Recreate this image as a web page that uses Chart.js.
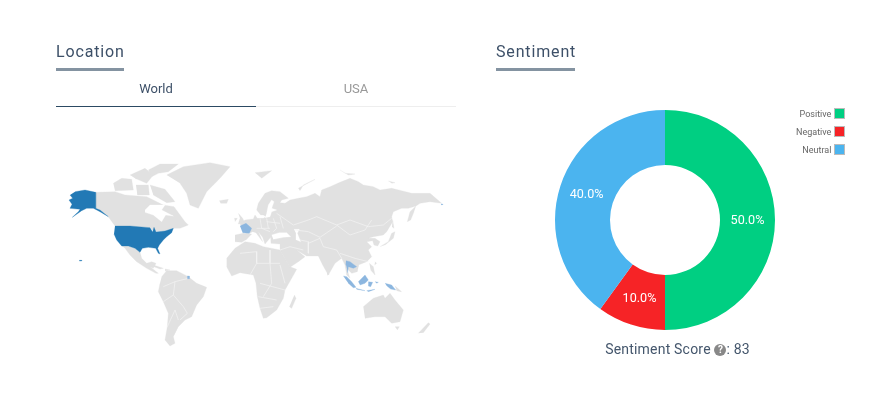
<!DOCTYPE html>
<html>
<head>
<meta charset="utf-8">
<script src="https://cdn.jsdelivr.net/npm/chart.js@4"></script>
<style>
body { margin: 0; background: #fff; font-family: Roboto, sans-serif; width: 889px; height: 396px; overflow: hidden; position: relative; }
.title { position: absolute; top: 42px; font-size: 16px; letter-spacing: .85px; color: #3d5068; line-height: 20px; will-change: transform; }
.bar { position: absolute; top: 68px; height: 3px; background: #8493a1; }
.tab { position: absolute; top: 80px; width: 200px; text-align: center; font-size: 13px; line-height: 17px; will-change: transform; }
.tabline { position: absolute; top: 106px; width: 200px; height: 1px; }
#mapBox { position: absolute; left: 56px; top: 130px; width: 400px; height: 230px; }
#pieBox { position: absolute; left: 545px; top: 100px; width: 240px; height: 240px; }
#legend { position: absolute; right: 44px; top: 108px; font-size: 9px; color: #666; text-align: right; will-change: transform; }
#legend div { height: 18px; line-height: 13px; }
#legend i { display: inline-block; width: 9px; height: 9px; border: 1px solid #bbb; margin-left: 3px; vertical-align: -2px; }
#score { position: absolute; left: 545px; width: 265px; top: 340px; text-align: center; font-size: 14px; color: #44566c; line-height: 18px; letter-spacing: .2px; will-change: transform; }
#score span { display: inline-block; width: 12px; height: 12px; border-radius: 50%; background: #888; color: #fff; font-size: 10px; font-weight: 700; line-height: 12px; letter-spacing: 0; vertical-align: 1px; }
</style>
</head>
<body>
<div class="title" style="left:56px">Location</div>
<div class="bar" style="left:56px;width:68px"></div>
<div class="tab" style="left:56px;color:#3d5068">World</div>
<div class="tab" style="left:256px;color:#999">USA</div>
<div class="tabline" style="left:56px;background:#2c4a63"></div>
<div class="tabline" style="left:256px;background:#eee"></div>
<div class="title" style="left:496px">Sentiment</div>
<div class="bar" style="left:496px;width:79px"></div>
<div id="mapBox"><canvas id="mapChart" width="400" height="230"></canvas></div>
<div id="pieBox"><canvas id="pieChart" width="240" height="240"></canvas></div>
<div id="legend"></div>
<div id="score">Sentiment Score <span>?</span>: 83</div>
<script>
const categories = ['Positive', 'Negative', 'Neutral'];
const sentiment = [50, 10, 40];
const sentimentColors = ['#00cf82', '#f62326', '#4bb4ef'];

// map outlines, in map units
const landShapes = [
    // canada
    [[137,127],[195,125],[225,135],[290,140],[340,165],[372,170],[405,215],[415,225],[390,235],[370,235],[345,243],[315,245],[300,233],[240,228],[195,228],[175,200],[150,180],[137,175]],
    // arctic islands
    [[190,100],[215,85],[245,88],[250,120],[195,122]],
    [[240,75],[285,55],[310,75],[290,100],[255,85]],
    [[295,60],[330,42],[385,42],[355,65],[325,70],[305,80]],
    [[258,105],[295,105],[298,135],[262,135]],
    [[300,105],[345,118],[375,155],[350,158],[310,135]],
    // greenland, iceland
    [[350,75],[400,50],[480,38],[540,50],[510,85],[470,125],[445,175],[420,165],[410,130],[390,100]],
    [[508,152],[535,148],[530,160],[512,160]],
    // mexico, caribbean
    [[215,288],[235,288],[255,295],[270,307],[275,325],[290,340],[305,335],[318,340],[310,355],[300,350],[325,370],[318,370],[290,355],[260,335],[240,315],[225,295]],
    [[310,345],[340,355],[330,357],[312,350]],
    [[345,357],[360,360],[345,363]],
    // south america
    [[335,380],[350,362],[380,362],[415,380],[440,400],[470,412],[460,440],[440,465],[425,500],[405,510],[385,530],[370,560],[375,580],[360,588],[345,570],[352,530],[355,490],[340,455],[325,425],[330,400]],
    // africa, madagascar
    [[530,325],[555,295],[585,275],[615,280],[640,290],[690,300],[720,350],[740,358],[725,385],[705,420],[700,445],[680,480],[650,503],[640,505],[630,475],[622,440],[618,400],[610,375],[570,368],[545,378],[530,350]],
    [[733,435],[738,445],[725,475],[718,470]],
    // europe and asia
    [[570,222],[585,210],[610,207],[615,195],[622,205],[640,205],[648,200],[640,195],[632,195],[620,180],[625,160],[645,130],[665,122],[690,125],[715,145],[695,150],[690,158],[705,160],[720,150],[745,145],[770,140],[795,130],[810,140],[815,120],[840,110],[870,97],[900,85],[925,95],[940,105],[970,110],[990,120],[1025,115],[1055,122],[1085,130],[1140,130],[1175,160],[1140,155],[1110,160],[1098,168],[1075,175],[1055,175],[1030,185],[1025,200],[1028,215],[1010,245],[1000,255],[970,260],[955,265],[975,265],[990,275],[983,288],[972,285],[968,272],[950,275],[965,290],[955,300],[965,320],[950,335],[925,345],[925,350],[922,365],[905,370],[890,355],[892,362],[900,385],[890,375],[885,345],[875,325],[855,340],[835,375],[818,345],[805,318],[770,318],[740,300],[765,320],[745,335],[720,352],[710,335],[690,300],[690,282],[663,280],[662,262],[645,282],[638,262],[625,245],[638,275],[618,248],[608,245],[598,250],[588,252]],
    [[1098,168],[1080,185],[1072,215],[1082,210],[1092,185]],
    [[555,255],[580,250],[605,252],[590,268],[575,277],[555,275]],
    [[565,190],[578,205],[585,220],[565,222],[570,205]],
    [[553,205],[562,205],[555,215]],
    [[615,68],[665,62],[635,85]],
    [[745,115],[795,88],[760,105],[750,122]],
    [[870,60],[895,75],[915,72],[885,70]],
    [[1015,93],[1035,98],[1025,100]],
    [[990,290],[1015,275],[1025,250],[1035,245],[1030,265],[1005,285]],
    [[1028,210],[1032,235],[1026,230]],
    [[975,335],[980,340],[974,345]],
    [[958,340],[970,350],[975,375],[962,360]],
    [[831,367],[838,372],[832,376]],
    [[1035,408],[1055,425],[1040,422]],
    // australia, new zealand
    [[940,470],[970,445],[1000,435],[1005,445],[1020,430],[1035,450],[1060,480],[1050,515],[1025,520],[1005,500],[975,500],[945,505]],
    [[1035,530],[1048,530],[1042,540]],
    [[1105,550],[1135,518],[1140,522],[1120,548]]
];

const waterShapes = [
    [[285,180],[300,165],[345,165],[335,180],[370,198],[347,195],[335,215],[310,195],[285,187]],
    [[665,255],[688,248],[710,248],[722,260],[700,262],[670,268]],
    [[732,238],[748,238],[742,250],[752,275],[740,270],[738,250]],
    [[650,190],[655,165],[665,150],[672,155],[665,175],[680,180],[665,185],[660,200],[645,203]]
];

const borderLines = [
    [[340,410],[375,395],[415,385]],
    [[375,395],[370,435],[400,470],[412,490],[390,510]],
    [[340,455],[370,435]],
    [[352,530],[375,480],[385,510]],
    [[570,310],[620,305],[620,340],[690,340]],
    [[660,300],[660,340],[665,400],[640,440]],
    [[620,340],[600,375]],
    [[690,345],[705,400]],
    [[630,400],[705,420]],
    [[625,440],[680,450]],
    [[630,475],[670,470]],
    [[690,300],[720,290],[760,300]],
    [[630,205],[635,235],[660,245]],
    [[650,205],[655,235]],
    [[670,205],[680,235],[670,245]],
    [[690,200],[700,235]],
    [[620,235],[660,235]],
    [[650,215],[690,220]],
    [[680,190],[730,225],[775,210],[800,200],[860,225],[900,210],[955,230],[1000,225],[1025,205]],
    [[860,225],[900,255],[945,240],[965,210]],
    [[735,240],[775,245],[810,262],[860,228]],
    [[750,270],[775,275],[775,310]],
    [[775,280],[810,265],[820,290],[860,300],[875,325]],
    [[870,310],[915,325],[955,335]]
];

const usaShapes = [
    [[75,125],[105,120],[137,127],[137,175],[150,180],[175,200],[150,185],[130,175],[110,175],[95,182],[67,202],[85,185],[90,178],[60,175],[66,163],[57,150],[68,145],[60,135]],
    [[195,228],[240,228],[300,233],[308,246],[312,232],[318,246],[345,243],[370,235],[365,248],[350,260],[340,270],[328,285],[323,295],[330,312],[325,310],[317,295],[295,292],[277,295],[270,307],[255,295],[235,288],[215,288],[200,270],[192,252]],
    [[88,331],[95,331],[95,333],[88,333]]
];

const lightShapes = [
    [[412,378],[418,378],[418,386],[412,386]],
    [[570,228],[588,220],[605,235],[598,250],[578,248]],
    [[888,332],[900,335],[920,350],[910,355],[895,350],[893,368],[890,350],[887,342]],
    [[880,378],[890,380],[905,395],[918,412],[910,413],[895,400]],
    [[918,415],[945,422],[920,418]],
    [[925,395],[945,375],[955,390],[945,400],[930,405]],
    [[955,395],[968,397],[962,410],[955,408]],
    [[1005,400],[1025,405],[1037,420],[1022,417],[1010,407]],
    [[975,395],[985,397],[980,400]],
    [[950,422],[975,418],[955,425]],
    [[1173,162],[1178,162],[1178,164],[1173,164]]
];

function shape(pts, color) {
    return {
        data: pts.map(p => ({ x: p[0], y: p[1] })),
        showLine: true,
        fill: 'shape',
        backgroundColor: color,
        borderColor: color,
        borderWidth: 0.3,
        tension: 0,
        pointRadius: 0
    };
}

function line(pts) {
    return {
        data: pts.map(p => ({ x: p[0], y: p[1] })),
        showLine: true,
        fill: false,
        borderColor: '#f4f4f4',
        borderWidth: 0.7,
        tension: 0,
        pointRadius: 0
    };
}

let mapSets = [];
landShapes.forEach(p => mapSets.push(shape(p, '#e1e1e1')));
waterShapes.forEach(p => mapSets.push(shape(p, '#ffffff')));
borderLines.forEach(p => mapSets.push(line(p)));
usaShapes.forEach(p => mapSets.push(shape(p, '#2279b5')));
lightShapes.forEach(p => mapSets.push(shape(p, '#8cb6df')));
// chart.js paints the first dataset last
mapSets.reverse();

new Chart(document.getElementById('mapChart'), {
    type: 'scatter',
    data: { datasets: mapSets },
    options: {
        responsive: false,
        animation: false,
        plugins: { legend: { display: false }, tooltip: { enabled: false } },
        scales: {
            x: { display: false, min: 18, max: 1218 },
            y: { display: false, min: -60, max: 630, reverse: true }
        }
    }
});

const sliceLabels = {
    id: 'sliceLabels',
    afterDatasetsDraw(chart) {
        const ctx = chart.ctx;
        ctx.save();
        ctx.fillStyle = '#fff';
        ctx.font = '12.6px Roboto';
        ctx.textAlign = 'center';
        ctx.textBaseline = 'middle';
        chart.getDatasetMeta(0).data.forEach((arc, i) => {
            const pos = arc.tooltipPosition();
            ctx.fillText(sentiment[i].toFixed(1) + '%', pos.x, pos.y + 0.5);
        });
        ctx.restore();
    }
};

new Chart(document.getElementById('pieChart'), {
    type: 'doughnut',
    data: {
        labels: categories,
        datasets: [{ data: sentiment, backgroundColor: sentimentColors, borderWidth: 0 }]
    },
    options: {
        responsive: false,
        animation: false,
        cutout: '50%',
        radius: 110,
        plugins: { legend: { display: false }, tooltip: { enabled: false } }
    },
    plugins: [sliceLabels]
});

document.getElementById('legend').innerHTML = categories.map((c, i) =>
    `<div>${c}<i style="background:${sentimentColors[i]}"></i></div>`).join('');
</script>
</body>
</html>
